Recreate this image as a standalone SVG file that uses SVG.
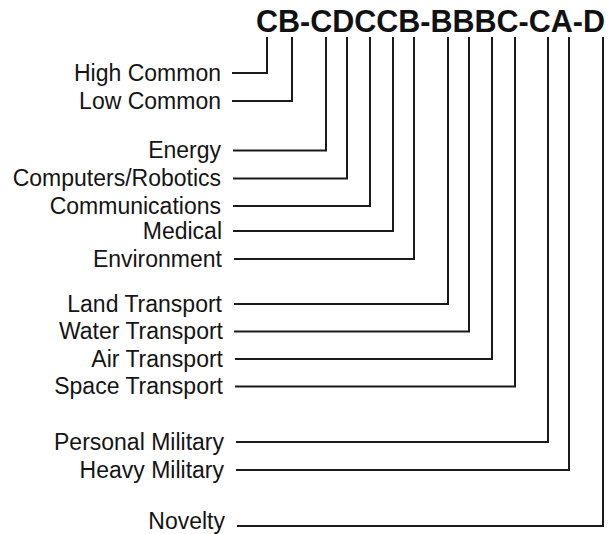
<svg xmlns="http://www.w3.org/2000/svg" width="608" height="534" viewBox="0 0 608 534">
<style>
.lbl{font-family:"Liberation Sans",Arial,Helvetica,sans-serif;font-size:23px;fill:#141414;text-anchor:end}
.ttl{font-family:"Liberation Sans",Arial,Helvetica,sans-serif;font-size:30.5px;font-weight:bold;fill:#111}
.c{fill:none;stroke:#1a1a1a;stroke-width:2;stroke-linejoin:miter;stroke-linecap:butt}
</style>
<rect width="608" height="534" fill="#ffffff"/>
<g id="title"><text class="ttl" x="256" y="32">CB-CDCCB-BBBC-CA-D</text></g>
<g id="connectors">
<path class="c" d="M232 73H267V37"/>
<path class="c" d="M232 101H292V37"/>
<path class="c" d="M233 150.5H326V37"/>
<path class="c" d="M233 178.5H347V37"/>
<path class="c" d="M233 206H370V37"/>
<path class="c" d="M233 231H393V37"/>
<path class="c" d="M234 259H414V37"/>
<path class="c" d="M234 304H448V37"/>
<path class="c" d="M234 331.5H469V37"/>
<path class="c" d="M235 359H492V37"/>
<path class="c" d="M235 386.5H515V37"/>
<path class="c" d="M236 442H548V37"/>
<path class="c" d="M236 470H569V37"/>
<path class="c" d="M237 526H603V37"/>
</g>
<g id="high-common"><text class="lbl" x="221" y="80.5">High Common</text></g>
<g id="low-common"><text class="lbl" x="221" y="108.5">Low Common</text></g>
<g id="energy"><text class="lbl" x="221" y="158">Energy</text></g>
<g id="computers-robotics"><text class="lbl" x="221" y="186">Computers/Robotics</text></g>
<g id="communications"><text class="lbl" x="221" y="213.5">Communications</text></g>
<g id="medical"><text class="lbl" x="222" y="238.5">Medical</text></g>
<g id="environment"><text class="lbl" x="222" y="266.5">Environment</text></g>
<g id="land-transport"><text class="lbl" x="222" y="311.5">Land Transport</text></g>
<g id="water-transport"><text class="lbl" x="223" y="339">Water Transport</text></g>
<g id="air-transport"><text class="lbl" x="223" y="366.5">Air Transport</text></g>
<g id="space-transport"><text class="lbl" x="223" y="394">Space Transport</text></g>
<g id="personal-military"><text class="lbl" x="224" y="449.5">Personal Military</text></g>
<g id="heavy-military"><text class="lbl" x="224" y="477.5">Heavy Military</text></g>
<g id="novelty"><text class="lbl" x="225" y="529">Novelty</text></g>
</svg>
